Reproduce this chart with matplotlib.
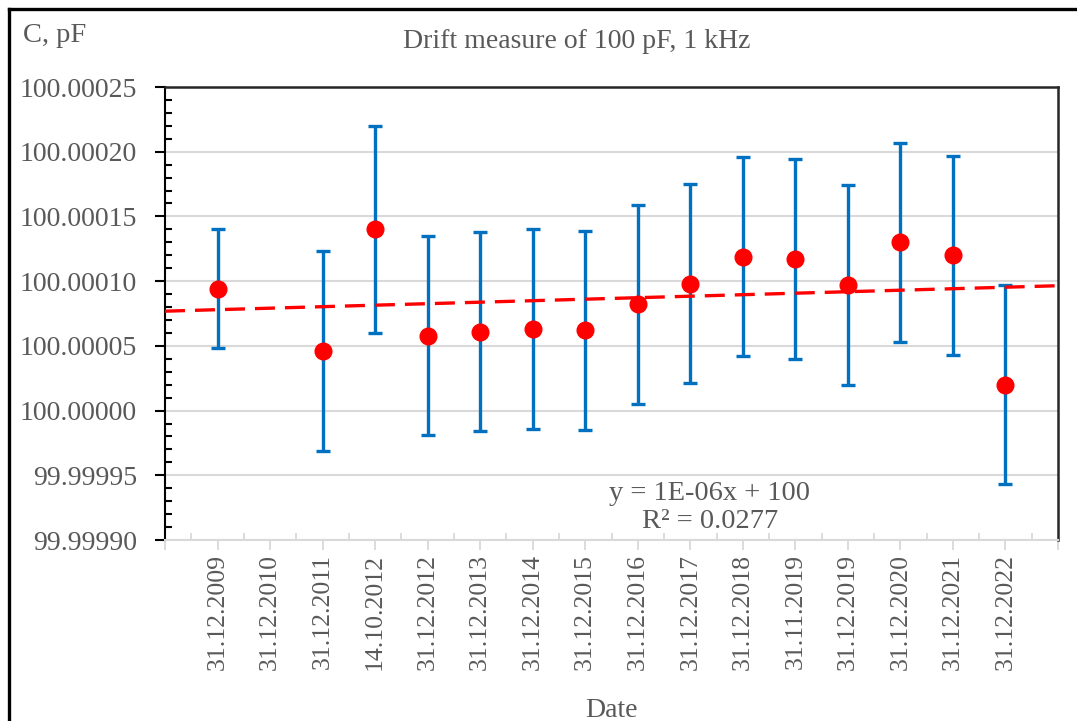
import numpy as np
import matplotlib
matplotlib.use("Agg")
import matplotlib.pyplot as plt
from matplotlib.ticker import FormatStrFormatter, FixedLocator
from matplotlib.lines import Line2D

# ---------------------------------------------------------------------------
# data (capacitance in pF, expanded uncertainty in pF)
# ---------------------------------------------------------------------------
dates = ["31.12.2009", "31.12.2010", "31.12.2011", "14.10.2012", "31.12.2012",
         "31.12.2013", "31.12.2014", "31.12.2015", "31.12.2016", "31.12.2017",
         "31.12.2018", "31.11.2019", "31.12.2019", "31.12.2020", "31.12.2021",
         "31.12.2022"]
capacitance = [100.000094, np.nan, 100.000046, 100.000140, 100.000058,
               100.000061, 100.000063, 100.000062, 100.000082, 100.000098,
               100.000119, 100.000117, 100.000097, 100.000130, 100.000120,
               100.000020]
uncertainty = [0.000046, np.nan, 0.000077, 0.000080, 0.000077,
               0.000077, 0.000077, 0.000077, 0.000077, 0.000077,
               0.000077, 0.000077, 0.000077, 0.000077, 0.000077,
               0.000077]
trend_text = "y = 1E-06x + 100\nR² = 0.0277"

TEXT = "#595959"
plt.rcParams["font.family"] = ["Liberation Serif", "DejaVu Serif"]

W, H = 1077, 721
fig = plt.figure(figsize=(W / 100, H / 100), dpi=100)
ax = fig.add_axes([165 / W, 1 - 540 / H, (1058 - 165) / W, (540 - 87) / H])

x = np.arange(1, len(dates) + 1)
y = np.array(capacitance)
u = np.array(uncertainty)
ok = ~np.isnan(y)

# error bars + points
ax.errorbar(x[ok], y[ok], yerr=u[ok], fmt="none", ecolor="#0070C0",
            elinewidth=2.4, capsize=5, capthick=2.4, zorder=3)
ax.plot(x[ok], y[ok], "o", color="#FF0000", markersize=12, zorder=4)

# linear trendline (Excel style, over category index)
slope, icpt = np.polyfit(x[ok], y[ok] - 100.0, 1)
xt = np.array([0, len(dates) + 1])
ax.plot(xt, 100.0 + icpt + slope * xt, color="#FF0000", linewidth=2.4,
        dashes=(6, 3), zorder=5)

ax.text(0.61, 0.072, trend_text, transform=ax.transAxes, ha="center",
        va="center", fontsize=20.5, color=TEXT, linespacing=1.12)

# axes limits / ticks
ax.set_xlim(0, len(dates) + 1)
ax.set_ylim(99.9999, 100.00025)

ax.yaxis.set_major_locator(FixedLocator(np.round(np.arange(99.9999, 100.000251, 0.00005), 5)))
ax.yaxis.set_minor_locator(FixedLocator(np.round(np.arange(99.9999, 100.000251, 0.00001), 5)))
ax.yaxis.set_major_formatter(FormatStrFormatter("%.5f"))
ax.tick_params(axis="y", which="major", direction="out", length=7, width=1.5,
               color="black", labelsize=20, labelcolor=TEXT, pad=13)
ax.tick_params(axis="y", which="minor", direction="in", length=5, width=1.5,
               color="black")

ax.set_xticks(np.arange(0, len(dates) + 2))
ax.set_xticklabels([""] + dates + [""], rotation=90)
ax.xaxis.set_minor_locator(FixedLocator(np.arange(0.5, len(dates) + 1, 1.0)))
ax.tick_params(axis="x", which="major", direction="out", length=7, width=1.3,
               color="#D9D9D9", labelsize=18.5, labelcolor=TEXT, pad=3)
ax.tick_params(axis="x", which="minor", direction="in", length=5, width=1.3,
               color="#D9D9D9")

ax.grid(axis="y", which="major", color="#D9D9D9", linewidth=1.5)
ax.set_axisbelow(True)

for side in ("top", "right"):
    ax.spines[side].set_color("#262626")
    ax.spines[side].set_linewidth(1.8)
ax.spines["left"].set_color("black")
ax.spines["left"].set_linewidth(1.5)
ax.spines["bottom"].set_color("#D9D9D9")
ax.spines["bottom"].set_linewidth(1.5)

ax.set_xlabel("Date", fontsize=20, color=TEXT, labelpad=20)

fig.text(577 / W, 1 - 41 / H, "Drift measure of 100 pF, 1 kHz", ha="center",
         va="center", fontsize=20, color=TEXT)
fig.text(23 / W, 1 - 36 / H, "C, pF", ha="left", va="center", fontsize=20.5,
         color=TEXT)

# outer chart frame (only top and left edges fall inside the picture)
fig.add_artist(Line2D([9 / W, 1.0], [1 - 9 / H, 1 - 9 / H], transform=fig.transFigure,
                      color="black", linewidth=2.4))
fig.add_artist(Line2D([9 / W, 9 / W], [0.0, 1 - 9 / H], transform=fig.transFigure,
                      color="black", linewidth=2.4))

fig.savefig("out.png", dpi=100)
